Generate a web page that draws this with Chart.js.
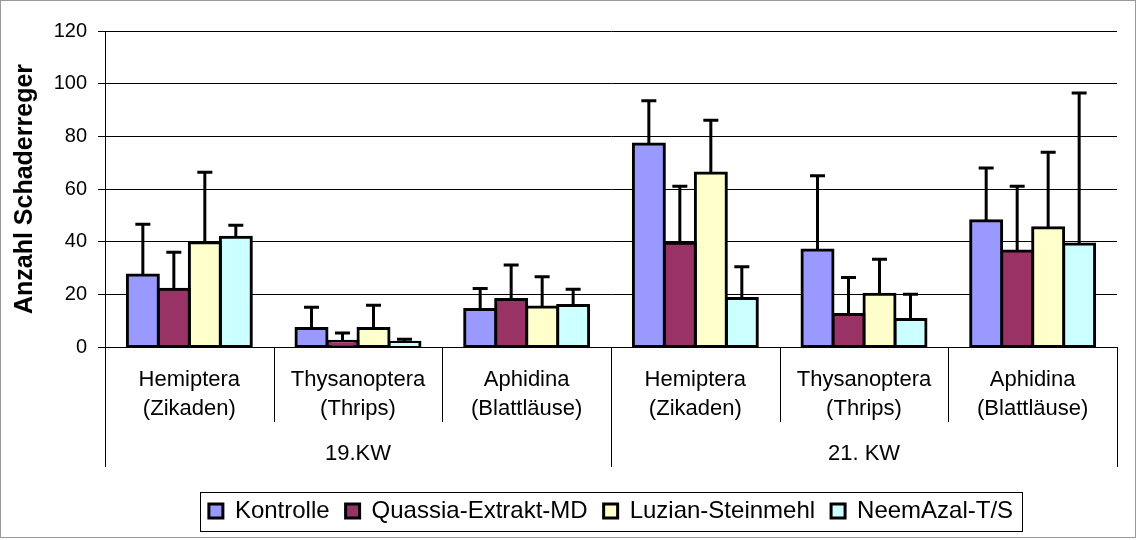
<!DOCTYPE html>
<html>
<head>
<meta charset="utf-8">
<script src="https://cdn.jsdelivr.net/npm/chart.js@4.4.1/dist/chart.umd.min.js"></script>
<style>
  html, body { margin: 0; padding: 0; background: #fff; }
  canvas { display: block; }
</style>
</head>
<body>
<canvas id="chart" width="1137" height="540"></canvas>
<script>
// Kategorien (zweizeilig) und Kalenderwochen
const kategorien = [
  ['Hemiptera', '(Zikaden)'],
  ['Thysanoptera', '(Thrips)'],
  ['Aphidina', '(Blattläuse)'],
  ['Hemiptera', '(Zikaden)'],
  ['Thysanoptera', '(Thrips)'],
  ['Aphidina', '(Blattläuse)']
];
const wochen = ['19.KW', '21. KW'];

// Mittelwerte
const kontrolle = [27.3, 7.0, 14.2, 77.1, 36.8, 47.9];
const quassia   = [21.9, 2.2, 18.0, 39.4, 12.3, 36.5];
const luzian    = [39.6, 7.0, 15.2, 66.1, 20.0, 45.3];
const neem      = [41.7, 1.8, 15.8, 18.4, 10.4, 39.1];

// Standardabweichung (nur nach oben gezeichnet)
const kontrolleSd = [19.3, 8.1, 8.0, 16.4, 28.2, 20.1];
const quassiaSd   = [14.1, 3.1, 13.1, 21.6, 14.1, 24.5];
const luzianSd    = [26.8, 8.9, 11.5, 20.0, 13.3, 28.7];
const neemSd      = [4.5, 1.1, 6.1, 12.1, 9.6, 57.4];

const yTicks = [0, 20, 40, 60, 80, 100, 120];

Chart.defaults.font.family = "'Liberation Sans', Arial, sans-serif";
Chart.defaults.color = '#000';

function bar(label, data, sd, color) {
  return {
    label: label,
    data: data,
    sd: sd,
    backgroundColor: color,
    borderColor: '#000',
    borderWidth: 3,
    borderSkipped: false,
    inflateAmount: 1.5,
    barPercentage: 1.0,
    categoryPercentage: 0.735
  };
}

// Fehlerbalken
const errorBars = {
  id: 'errorBars',
  afterDatasetsDraw(chart) {
    const ctx = chart.ctx;
    const y = chart.scales.y;
    ctx.save();
    ctx.strokeStyle = '#000';
    ctx.lineWidth = 3;
    chart.data.datasets.forEach((ds, di) => {
      chart.getDatasetMeta(di).data.forEach((el, i) => {
        const top = y.getPixelForValue(ds.data[i] + ds.sd[i]);
        const base = y.getPixelForValue(ds.data[i]);
        ctx.beginPath();
        ctx.moveTo(el.x, base);
        ctx.lineTo(el.x, top);
        ctx.moveTo(el.x - 7.5, top);
        ctx.lineTo(el.x + 7.5, top);
        ctx.stroke();
      });
    });
    ctx.restore();
  }
};

// Trennlinien unter der x-Achse, Legendenrahmen, Außenrahmen
const decorations = {
  id: 'decorations',
  afterDraw(chart) {
    const ctx = chart.ctx;
    const xs = chart.scales.x;
    const x2 = chart.scales.x2;
    const bottom = chart.chartArea.bottom;
    const half = (xs.getPixelForValue(1) - xs.getPixelForValue(0)) / 2;
    ctx.save();
    ctx.strokeStyle = '#000';
    ctx.lineWidth = 1;
    for (let i = 0; i <= kategorien.length; i++) {
      const bx = Math.round(xs.getPixelForValue(0) - half + i * 2 * half) + 0.5;
      const end = (i % 3 === 0) ? x2.top + 45 : xs.bottom;
      ctx.beginPath();
      ctx.moveTo(bx, bottom);
      ctx.lineTo(bx, end);
      ctx.stroke();
    }

    const boxes = chart.legend.legendHitBoxes;
    if (boxes && boxes.length) {
      const left = boxes[0].left - 9;
      const last = boxes[boxes.length - 1];
      const right = last.left + last.width + 9;
      const cy = boxes[0].top + boxes[0].height / 2;
      ctx.strokeRect(Math.round(left) + 0.5, Math.round(cy - 19) + 0.5, Math.round(right - left), 39);
    }

    ctx.strokeStyle = '#999';
    ctx.strokeRect(0.5, 0.5, 1135, 537);
    ctx.restore();
  }
};

new Chart(document.getElementById('chart'), {
  type: 'bar',
  data: {
    labels: kategorien,
    datasets: [
      bar('Kontrolle', kontrolle, kontrolleSd, '#9999FF'),
      bar('Quassia-Extrakt-MD', quassia, quassiaSd, '#993366'),
      bar('Luzian-Steinmehl', luzian, luzianSd, '#FFFFCC'),
      bar('NeemAzal-T/S', neem, neemSd, '#CCFFFF')
    ]
  },
  options: {
    responsive: false,
    devicePixelRatio: 1,
    animation: false,
    layout: { padding: { top: 31, left: 0, right: 20, bottom: 7 } },
    plugins: {
      tooltip: { enabled: false },
      legend: {
        position: 'bottom',
        fullSize: false,
        labels: {
          boxWidth: 14,
          boxHeight: 14,
          padding: 16,
          color: '#000',
          font: { size: 24 }
        }
      }
    },
    scales: {
      x: {
        type: 'category',
        offset: true,
        weight: 0,
        grid: { display: false, drawTicks: false },
        border: { display: true, color: '#000', width: 1 },
        ticks: {
          font: { size: 22, lineHeight: 1.32 },
          padding: 18,
          maxRotation: 0,
          autoSkip: false
        },
        afterFit(s) { s.height = 75; }
      },
      x2: {
        type: 'category',
        labels: wochen,
        position: 'bottom',
        offset: true,
        weight: 1,
        grid: { display: false, drawTicks: false },
        border: { display: false },
        ticks: { font: { size: 22 }, padding: 19, maxRotation: 0 },
        afterFit(s) { s.height = 61; }
      },
      y: {
        min: 0,
        max: 120,
        afterBuildTicks(s) { s.ticks = yTicks.map(v => ({ value: v })); },
        grid: { color: '#000', lineWidth: 1, tickLength: 7 },
        border: { color: '#000', width: 1 },
        ticks: { font: { size: 20 }, padding: 11 },
        title: {
          display: true,
          text: 'Anzahl Schaderreger',
          font: { size: 25, weight: 'bold' },
          padding: { top: 10, bottom: 0 }
        },
        afterFit(s) { s.width = 105; }
      }
    }
  },
  plugins: [errorBars, decorations]
});
</script>
</body>
</html>
